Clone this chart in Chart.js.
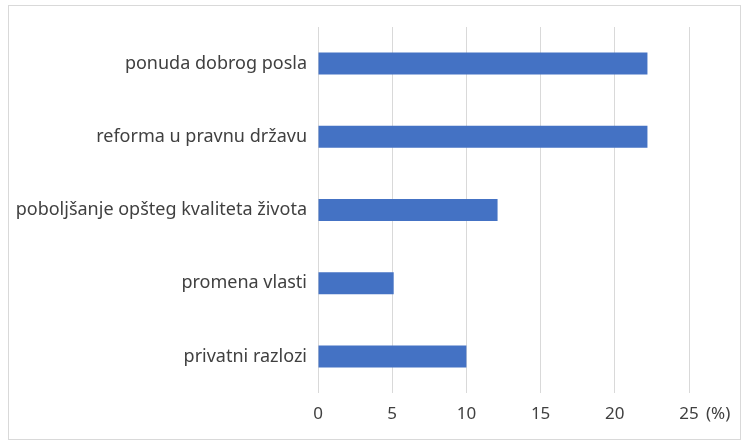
<!DOCTYPE html>
<html>
<head>
<meta charset="utf-8">
<script src="https://cdn.jsdelivr.net/npm/chart.js@4"></script>
<style>
  html, body { margin: 0; padding: 0; background: #fff; }
  #wrap { width: 744px; height: 442px; position: relative; }
</style>
</head>
<body>
<div id="wrap"><canvas id="myChart" width="744" height="442"></canvas></div>
<script>
var categories = [
  "ponuda dobrog posla",
  "reforma u pravnu državu",
  "poboljšanje opšteg kvaliteta života",
  "promena vlasti",
  "privatni razlozi",
];
var values = [22.2, 22.2, 12.1, 5.1, 10.0];
var unitLabel = "(%)";
var textColor = "#404040";

// frame around the chart + unit label after the last tick
var extras = {
  id: "extras",
  afterDraw: function (chart) {
    var c = chart.ctx;
    c.save();
    c.strokeStyle = "#d9d9d9";
    c.lineWidth = 1;
    c.strokeRect(8.5, 5.5, 732, 434);
    var xs = chart.scales.x;
    c.fillStyle = textColor;
    c.font = "17px 'Noto Sans'";
    c.textBaseline = "middle";
    c.textAlign = "left";
    c.fillText(unitLabel, xs.getPixelForValue(25) + 17, 414);
    c.restore();
  },
};

var ctx = document.getElementById("myChart");
var myChart = new Chart(ctx, {
  type: "bar",
  data: {
    labels: categories,
    datasets: [
      {
        data: values,
        backgroundColor: "#4472C4",
        categoryPercentage: 1,
        barPercentage: 0.3,
      },
    ],
  },
  options: {
    indexAxis: "y",
    responsive: false,
    animation: false,
    layout: { padding: { top: 27, right: 55, bottom: 0, left: 0 } },
    scales: {
      x: {
        min: 0,
        max: 25,
        ticks: { stepSize: 5, color: textColor, font: { family: "Noto Sans", size: 17 }, padding: 11 },
        grid: { color: "#d9d9d9", drawTicks: false },
        border: { display: false },
        afterFit: function (scale) { scale.height = 49; },
      },
      y: {
        ticks: { color: textColor, font: { family: "Noto Sans", size: 18 }, padding: 11 },
        grid: { display: false, drawTicks: false },
        border: { display: false },
        afterFit: function (scale) { scale.width = 318; },
      },
    },
    plugins: {
      legend: { display: false },
      tooltip: { enabled: false },
    },
  },
  plugins: [extras],
});
</script>
</body>
</html>
